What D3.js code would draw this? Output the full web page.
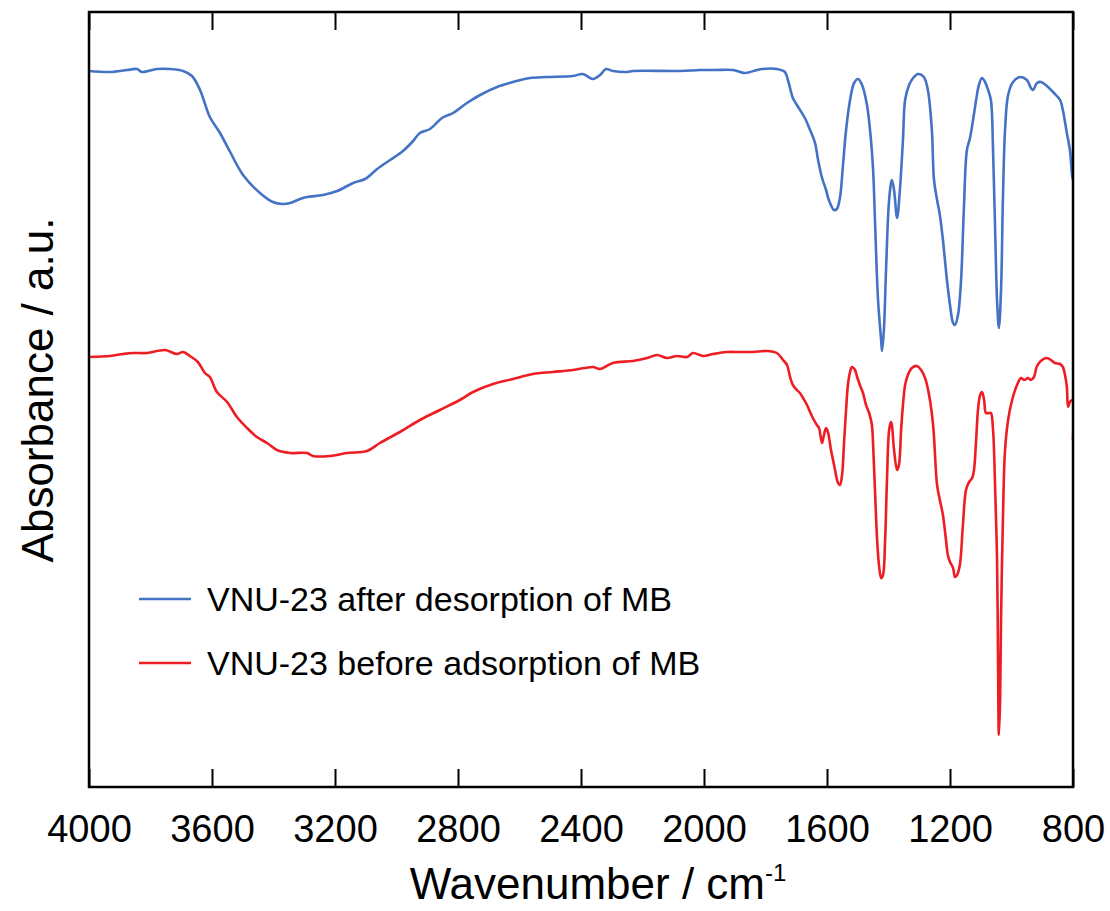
<!DOCTYPE html>
<html>
<head>
<meta charset="utf-8">
<script src="https://cdn.jsdelivr.net/npm/d3@7"></script>
<style>
  body { margin: 0; background: #fff; }
  text { font-family: "Liberation Sans", Arial, sans-serif; fill: #000; }
</style>
</head>
<body>
<svg id="chart"></svg>
<script>
// wavenumber (cm-1) and absorbance (a.u.)
var afterWn = [4000, 3932, 3876, 3844, 3828, 3779, 3737, 3694, 3665, 3639, 3607, 3574, 3541, 3499, 3444, 3402, 3372, 3346, 3314, 3291, 3239, 3193, 3141, 3102, 3063, 3021, 2979, 2946, 2924, 2891, 2852, 2816, 2771, 2728, 2673, 2621, 2566, 2511, 2426, 2394, 2361, 2338, 2319, 2296, 2250, 2231, 2078, 2013, 1964, 1906, 1867, 1828, 1811, 1763, 1737, 1727, 1711, 1698, 1672, 1655, 1639, 1629, 1616, 1603, 1594, 1577, 1568, 1558, 1548, 1538, 1525, 1512, 1499, 1486, 1470, 1457, 1450, 1444, 1434, 1424, 1421, 1415, 1408, 1398, 1389, 1382, 1372, 1363, 1353, 1346, 1333, 1320, 1304, 1285, 1272, 1259, 1252, 1242, 1233, 1223, 1210, 1200, 1190, 1184, 1174, 1164, 1155, 1145, 1135, 1125, 1115, 1106, 1096, 1086, 1076, 1067, 1060, 1054, 1047, 1041, 1034, 1028, 1021, 1011, 995, 972, 950, 937, 930, 917, 904, 885, 862, 842, 833, 820, 810, 803, 800];
var afterAbs = [71.6, 71.5, 71.7, 71.8, 71.5, 71.8, 71.8, 71.6, 71.1, 69.7, 67.0, 65.4, 63.5, 61.2, 59.4, 58.5, 58.3, 58.4, 58.8, 59.0, 59.2, 59.6, 60.4, 60.8, 61.8, 62.7, 63.6, 64.6, 65.4, 65.8, 66.9, 67.4, 68.4, 69.2, 70.0, 70.5, 70.9, 71.0, 71.1, 71.3, 70.8, 71.2, 71.8, 71.6, 71.5, 71.6, 71.6, 71.7, 71.7, 71.7, 71.4, 71.7, 71.8, 71.8, 71.5, 70.7, 68.9, 68.2, 66.9, 65.7, 64.4, 62.7, 60.9, 59.7, 58.7, 57.7, 57.8, 58.9, 62.2, 65.7, 68.7, 70.4, 70.8, 70.2, 68.2, 64.7, 61.7, 56.7, 48.7, 44.7, 43.6, 45.7, 51.7, 58.7, 60.7, 59.7, 56.9, 59.7, 64.7, 68.7, 70.2, 70.9, 71.3, 71.0, 69.7, 65.7, 60.7, 58.7, 57.2, 54.7, 50.7, 48.2, 46.4, 46.2, 47.2, 50.7, 57.7, 63.7, 64.9, 66.7, 68.7, 70.2, 70.9, 70.5, 69.7, 68.7, 63.7, 56.7, 48.7, 45.9, 49.7, 58.7, 65.7, 69.2, 70.5, 71.0, 70.7, 69.9, 69.7, 70.4, 70.5, 70.1, 69.4, 68.7, 67.7, 65.4, 63.7, 61.2, 60.7];

var beforeWn = [4000, 3932, 3889, 3857, 3811, 3753, 3714, 3694, 3672, 3646, 3623, 3607, 3584, 3551, 3519, 3486, 3454, 3421, 3389, 3346, 3291, 3272, 3216, 3161, 3096, 3054, 2989, 2924, 2859, 2794, 2751, 2686, 2621, 2556, 2491, 2426, 2361, 2338, 2296, 2231, 2185, 2153, 2120, 2088, 2055, 2036, 2003, 1971, 1925, 1883, 1841, 1795, 1763, 1743, 1730, 1720, 1711, 1698, 1688, 1678, 1665, 1655, 1646, 1633, 1626, 1620, 1616, 1610, 1603, 1597, 1587, 1577, 1564, 1558, 1551, 1545, 1538, 1532, 1525, 1519, 1509, 1502, 1493, 1483, 1473, 1463, 1454, 1450, 1444, 1437, 1431, 1424, 1418, 1411, 1405, 1398, 1392, 1389, 1382, 1372, 1366, 1359, 1353, 1346, 1337, 1324, 1307, 1294, 1281, 1268, 1255, 1242, 1233, 1223, 1213, 1207, 1200, 1190, 1184, 1177, 1168, 1158, 1148, 1138, 1128, 1122, 1115, 1109, 1102, 1096, 1089, 1083, 1073, 1067, 1060, 1054, 1047, 1044, 1041, 1037, 1034, 1028, 1021, 1011, 998, 982, 969, 959, 946, 937, 927, 917, 901, 885, 872, 859, 842, 833, 826, 820, 816, 810, 803, 800];
var beforeAbs = [43.0, 43.1, 43.3, 43.4, 43.4, 43.7, 43.3, 43.5, 43.1, 42.5, 41.4, 41.0, 39.5, 38.5, 37.0, 35.9, 35.0, 34.4, 33.7, 33.4, 33.4, 33.1, 33.1, 33.4, 33.6, 34.4, 35.5, 36.7, 37.7, 38.7, 39.5, 40.3, 40.8, 41.3, 41.5, 41.7, 42.0, 41.8, 42.4, 42.6, 42.9, 43.2, 42.9, 43.1, 43.0, 43.4, 43.1, 43.3, 43.5, 43.5, 43.5, 43.6, 43.4, 42.7, 42.2, 41.0, 40.2, 39.7, 39.4, 38.9, 38.2, 37.5, 36.9, 36.2, 35.9, 34.9, 34.4, 35.2, 35.9, 35.5, 33.7, 32.2, 30.4, 30.2, 31.2, 34.2, 37.7, 40.2, 41.5, 42.0, 41.7, 41.0, 40.2, 39.4, 38.2, 37.4, 36.2, 34.2, 29.7, 24.7, 22.2, 20.9, 21.2, 24.7, 30.7, 35.7, 36.5, 36.2, 33.7, 31.7, 32.2, 35.7, 38.2, 40.2, 41.2, 41.9, 42.1, 41.7, 40.9, 39.2, 36.2, 30.2, 28.7, 27.2, 24.7, 23.2, 22.5, 21.9, 21.0, 21.2, 22.2, 26.2, 29.7, 30.5, 30.9, 31.7, 34.7, 37.7, 39.2, 39.5, 38.7, 37.4, 37.4, 37.4, 35.7, 30.7, 22.7, 13.7, 5.2, 8.7, 16.7, 26.7, 33.7, 36.7, 38.7, 40.2, 40.9, 40.7, 40.9, 40.7, 41.0, 42.1, 42.7, 42.9, 42.7, 42.4, 42.3, 42.0, 41.2, 40.0, 38.0, 38.5, 38.7, 34.7];

var xTicks = [4000, 3600, 3200, 2800, 2400, 2000, 1600, 1200, 800];
var seriesNames = ["VNU-23 after desorption of MB", "VNU-23 before adsorption of MB"];
var seriesColors = ["#4472C4", "#EE1D23"];

var width = 1110, height = 911;
var margin = { left: 89, right: 37, top: 12, bottom: 124 };
var plotW = width - margin.left - margin.right;
var plotH = height - margin.top - margin.bottom;

var svg = d3.select("#chart").attr("width", width).attr("height", height);

var xScale = d3.scaleLinear().domain([4000, 800]).range([0, plotW]);
var yScale = d3.scaleLinear().domain([0, 77.5]).range([plotH, 0]);

var g = svg.append("g").attr("transform", `translate(${margin.left},${margin.top})`);

g.append("clipPath").attr("id", "clip")
  .append("rect").attr("width", plotW).attr("height", plotH);

var series = [
  { name: seriesNames[0], color: seriesColors[0], data: afterWn.map((w, i) => [w, afterAbs[i]]) },
  { name: seriesNames[1], color: seriesColors[1], data: beforeWn.map((w, i) => [w, beforeAbs[i]]) }
];

var line = d3.line()
  .x(d => xScale(d[0]))
  .y(d => yScale(d[1]))
  .curve(d3.curveCatmullRom.alpha(0.5));

g.selectAll(".spectrum")
  .data(series)
  .enter()
  .append("path")
  .attr("class", "spectrum")
  .attr("clip-path", "url(#clip)")
  .attr("fill", "none")
  .attr("stroke", d => d.color)
  .attr("stroke-width", 2.6)
  .attr("stroke-linejoin", "round")
  .attr("d", d => line(d.data));

// bottom axis, ticks pointing inwards
var xAxis = d3.axisBottom(xScale)
  .tickValues(xTicks)
  .tickSize(-18)
  .tickFormat(d3.format("d"));

var xg = g.append("g").attr("transform", `translate(0,${plotH})`).call(xAxis);
xg.select(".domain").remove();
xg.selectAll(".tick line").attr("stroke", "#000").attr("stroke-width", 2);
xg.selectAll(".tick text").attr("font-size", 38).attr("dy", 0).attr("y", 55)
  .style("font-family", "'Liberation Sans', Arial, sans-serif");

// top ticks
var topAxis = d3.axisTop(xScale).tickValues(xTicks).tickSize(-18).tickFormat("");
var tg = g.append("g").call(topAxis);
tg.select(".domain").remove();
tg.selectAll(".tick line").attr("stroke", "#000").attr("stroke-width", 2);

// frame
g.append("rect")
  .attr("width", plotW).attr("height", plotH)
  .attr("fill", "none").attr("stroke", "#000").attr("stroke-width", 2.5);

// axis titles
var xt = svg.append("text")
  .attr("x", 598)
  .attr("y", 899)
  .attr("text-anchor", "middle")
  .attr("font-size", 44);
xt.append("tspan").text("Wavenumber / cm");
xt.append("tspan").attr("font-size", 24).attr("dy", -18).text("-1");

svg.append("text")
  .attr("transform", "translate(53,390) rotate(-90)")
  .attr("text-anchor", "middle")
  .attr("font-size", 44)
  .text("Absorbance / a.u.");

// legend
var legend = g.append("g").attr("transform", "translate(50,587)")
  .selectAll("g")
  .data(series)
  .enter()
  .append("g")
  .attr("transform", (d, i) => `translate(0,${i * 64})`);

legend.append("line")
  .attr("x1", 0).attr("x2", 52)
  .attr("stroke", d => d.color)
  .attr("stroke-width", 2.6);

legend.append("text")
  .attr("x", 68)
  .attr("y", 12)
  .attr("font-size", 34)
  .text(d => d.name);
</script>
</body>
</html>
